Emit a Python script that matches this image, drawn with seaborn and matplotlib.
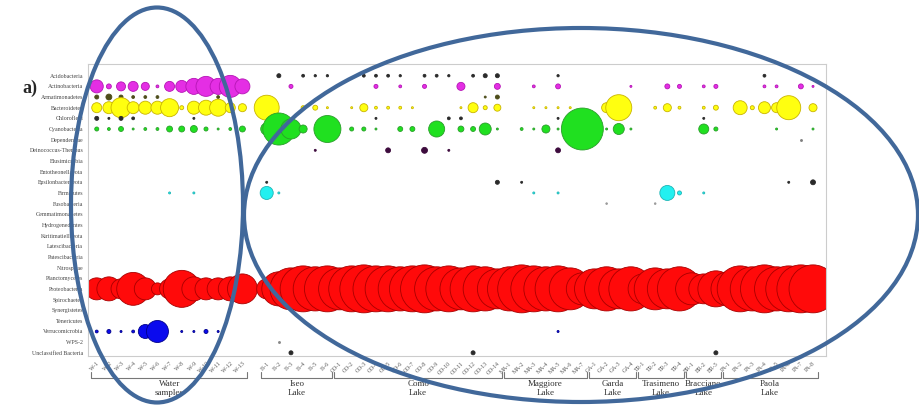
import numpy as np
import pandas as pd
import matplotlib
matplotlib.use("Agg")
import matplotlib.pyplot as plt
from matplotlib.patches import Ellipse
import seaborn as sns

sns.set_style("white")
plt.rcParams["font.family"] = ["Liberation Serif", "DejaVu Serif"]

# sample groups (the empty one is the blank column after the water samples)
group_names = ["Water\nsamples", "", "Iseo\nLake", "Como\nLake", "Maggiore\nLake",
               "Garda\nLake", "Trasimeno\nLake", "Bracciano\nLake", "Paola\nLake"]
group_codes = ["W", "", "IS", "CO", "MA", "GA", "TR", "BR", "PA"]
group_sizes = [13, 1, 6, 14, 7, 4, 4, 3, 8]

# relative abundance (%) per sample, in group order:
# water(13) | blank(1) | Iseo(6) | Como(14) | Maggiore(7) | Garda(4) | Trasimeno(4) | Bracciano(3) | Paola(8)
acidobacteria = ([0] * 13 + [0] + [0, 0.6, 0, 0.3, 0.2, 0.2]
                 + [0, 0, 0.3, 0.3, 0.3, 0.2, 0, 0.3, 0.3, 0.2, 0, 0.3, 0.6, 0.6]
                 + [0, 0, 0, 0, 0.2, 0, 0] + [0] * 4 + [0] * 4 + [0] * 3
                 + [0, 0, 0, 0.3, 0, 0, 0, 0])
actinobacteria = ([6.3, 0.9, 3.0, 3.7, 2.4, 0.3, 3.7, 5.3, 9.5, 14.8, 9.5, 17.9, 8.3] + [0]
                  + [0, 0, 0.6, 0, 0, 0]
                  + [0, 0, 0, 0.6, 0, 0.3, 0, 0.6, 0, 0, 2.4, 0, 0, 1.3]
                  + [0, 0, 0.3, 0, 0.9, 0, 0] + [0, 0, 0, 0.15] + [0, 0, 0.9, 0.6]
                  + [0, 0.3, 0.6] + [0, 0, 0, 0.3, 0.3, 0, 0.9, 0.15])
armatimonadetes = ([0.6, 1.3, 0.6, 0.3, 0.3, 0.3, 0, 0, 0, 0, 0.3, 0, 0] + [0]
                   + [0] * 6 + [0] * 12 + [0.15, 0.6] + [0] * 7 + [0] * 4 + [0] * 4
                   + [0] * 3 + [0] * 8)
bacteroidetes = ([3.7, 5.3, 14.8, 5.3, 6.3, 6.3, 12, 0.6, 6.3, 8.3, 10.7, 3.7, 2.4] + [0]
                 + [23, 0, 0, 0.6, 0.9, 0.15]
                 + [0, 0.15, 2.4, 0.3, 0.3, 0.3, 0.15, 0, 0, 0, 0.15, 3.7, 0.6, 1.8]
                 + [0, 0, 0.15, 0.15, 0.15, 0.15, 0] + [0, 3.7, 25, 0] + [0, 0.3, 2.4, 0.3]
                 + [0, 0.3, 0.9] + [0, 7.2, 0.6, 5.3, 3.7, 21.3, 0, 2.4])
chloroflexi = ([0.6, 0.15, 0.6, 0.3, 0, 0, 0, 0, 0.15, 0, 0, 0, 0] + [0] + [0] * 6
               + [0, 0, 0, 0.15, 0, 0, 0, 0, 0, 0.3, 0.3, 0, 0, 0]
               + [0, 0, 0, 0, 0.15, 0, 0] + [0] * 4 + [0] * 4 + [0, 0.15, 0] + [0] * 8)
cyanobacteria = ([0.6, 0.3, 0.9, 0.15, 0.3, 0.3, 1.3, 1.3, 1.8, 0.6, 0.15, 0.3, 1.3] + [0]
                 + [5.3, 38, 14.8, 2.4, 0, 27]
                 + [0, 0.6, 0.6, 0.15, 0, 0.9, 0.9, 0, 9.5, 0, 1.3, 0.9, 5.3, 0.15]
                 + [0, 0.3, 0.15, 2.4, 0.15, 0, 65] + [0, 0.15, 4.5, 0.15] + [0] * 4
                 + [0, 3.7, 0.6] + [0, 0, 0, 0, 0.15, 0, 0, 0.15])
dependentiae = [0] * 52 + [0, 0, 0, 0, 0, 0, 0.15, 0]
deinococcus = ([0] * 13 + [0] + [0, 0, 0, 0, 0.15, 0]
               + [0, 0, 0, 0, 0.9, 0, 0, 1.3, 0, 0.15, 0, 0, 0, 0]
               + [0, 0, 0, 0, 0.9, 0, 0] + [0] * 4 + [0] * 4 + [0] * 3 + [0] * 8)
epsilonbacteraeota = ([0] * 13 + [0] + [0.15, 0, 0, 0, 0, 0] + [0] * 13 + [0.6]
                      + [0, 0.15, 0, 0, 0, 0, 0] + [0] * 4 + [0] * 4 + [0] * 3
                      + [0, 0, 0, 0, 0, 0.15, 0, 0.9])
firmicutes = ([0, 0, 0, 0, 0, 0, 0.15, 0, 0.15, 0, 0, 0, 0] + [0]
              + [6.3, 0.15, 0, 0, 0, 0] + [0] * 14 + [0, 0, 0.15, 0, 0.15, 0, 0]
              + [0] * 4 + [0, 0, 8.3, 0.6] + [0, 0.15, 0] + [0] * 8)
fusobacteria = [0] * 34 + [0] * 7 + [0, 0.1, 0, 0] + [0, 0.1, 0, 0] + [0] * 3 + [0] * 8
proteobacteria = ([17.9, 21.3, 14.8, 40, 17.9, 5.3, 14.8, 50.6, 21.3, 17.9, 17.9, 21.3, 33]
                  + [0] + [14.8, 43, 65, 78, 72, 78]
                  + [65, 78, 85, 78, 78, 72, 78, 85, 72, 78, 65, 78, 72, 59]
                  + [72, 85, 78, 72, 78, 65, 38] + [59, 72, 59, 72] + [33, 65, 59, 72]
                  + [38, 33, 48] + [43, 78, 72, 85, 72, 78, 85, 85])
verrucomicrobia = ([0.3, 0.6, 0.15, 0.3, 7.2, 17.9, 0, 0.15, 0.15, 0.6, 0.15, 0, 0] + [0]
                   + [0] * 6 + [0] * 14 + [0, 0, 0, 0, 0.15, 0, 0] + [0] * 4 + [0] * 4
                   + [0] * 3 + [0] * 8)
wps2 = [0] * 13 + [0] + [0, 0.15, 0, 0, 0, 0] + [0] * 40
unclassified = ([0] * 13 + [0] + [0, 0, 0.6, 0, 0, 0] + [0] * 11 + [0.6, 0, 0]
                + [0] * 7 + [0] * 4 + [0] * 4 + [0, 0, 0.6] + [0] * 8)
empty = [0] * 60

phyla = ["Acidobacteria", "Actinobacteria", "Armatimonadetes", "Bacteroidetes",
         "Chloroflexi", "Cyanobacteria", "Dependentiae", "Deinococcus-Thermus",
         "Elusimicrobia", "Entotheonellaeota", "Epsilonbacteraeota", "Firmicutes",
         "Fusobacteria", "Gemmatimonadetes", "Hydrogenedentes", "Kiritimatiellaeota",
         "Latescibacteria", "Patescibacteria", "Nitrospirae", "Planctomycetes",
         "Proteobacteria", "Spirochaetes", "Synergistetes", "Tenericutes",
         "Verrucomicrobia", "WPS-2", "Unclassified Bacteria"]
abundances = [acidobacteria, actinobacteria, armatimonadetes, bacteroidetes,
              chloroflexi, cyanobacteria, dependentiae, deinococcus,
              empty, empty, epsilonbacteraeota, firmicutes,
              fusobacteria, empty, empty, empty,
              empty, empty, empty, empty,
              proteobacteria, empty, empty, empty,
              verrucomicrobia, wps2, unclassified]

face = {"Actinobacteria": "#e42ee4", "Bacteroidetes": "#ffff10", "Cyanobacteria": "#20e020",
        "Firmicutes": "#22f0f0", "Proteobacteria": "#ff0a0a", "Verrucomicrobia": "#0a0aee",
        "Armatimonadetes": "#4d4d1a", "Deinococcus-Thermus": "#3d0b3d",
        "Dependentiae": "#808080", "Fusobacteria": "#9a9a9a", "WPS-2": "#888888"}
edge = {"Actinobacteria": "#b515b5", "Bacteroidetes": "#c9b400", "Cyanobacteria": "#2a9e2a",
        "Firmicutes": "#1fb5b5", "Proteobacteria": "#a80000", "Verrucomicrobia": "#00008a"}

samples = []
for code, n in zip(group_codes, group_sizes):
    if code == "":
        samples += [""] * n
    else:
        samples += [f"{code}-{k}" for k in range(1, n + 1)]

rows = []
for r, (name, vals) in enumerate(zip(phyla, abundances)):
    assert len(vals) == len(samples), name
    for i, v in enumerate(vals):
        if v > 0:
            rows.append((name, r, i, v))
df = pd.DataFrame(rows, columns=["phylum", "row", "pos", "abundance"])

fig = plt.figure(figsize=(9.19, 4.13), dpi=100)
ax = fig.add_axes([88 / 919, 57 / 413, 738 / 919, 292 / 413])

for name, sub in df.groupby("phylum", sort=False):
    fc = face.get(name, "#2a2a2a")
    sns.scatterplot(data=sub, x="pos", y="row", size="abundance",
                    sizes=(0, 1402), size_norm=(0, 100),
                    color=fc, edgecolor=edge.get(name, fc), linewidth=0.6,
                    legend=False, ax=ax)

ax.set_xlim(-0.72, 60.07)
ax.set_ylim(26.3, -1.1)
ax.set_xlabel("")
ax.set_ylabel("")
ax.set_xticks(np.arange(len(samples)))
ax.set_xticklabels(samples, rotation=45, ha="right", rotation_mode="anchor",
                   fontsize=4.2, color="#555555")
ax.set_yticks(np.arange(len(phyla)))
ax.set_yticklabels(phyla, fontsize=4.2, color="#444444")
ax.tick_params(length=1.5, width=0.4, pad=2, color="#aaaaaa")
for s in ax.spines.values():
    s.set_color("#cccccc")
    s.set_linewidth(0.8)

# group brackets under the sample labels
trans = ax.get_xaxis_transform()
start = 0
for gname, n in zip(group_names, group_sizes):
    if gname:
        x0, x1 = start - 0.45, start + n - 1 + 0.4
        ax.plot([x0, x0, x1, x1], [-0.055, -0.075, -0.075, -0.055], transform=trans,
                color="#777777", lw=0.8, clip_on=False)
        ax.text((x0 + x1) / 2, -0.082, gname, transform=trans, ha="center", va="top",
                fontsize=6.5, linespacing=1.1, color="#333333")
    start += n

fig.text(0.024, 0.787, "a)", fontsize=13, fontweight="bold", va="center", ha="left")

# highlight ellipses
for cx, cy, w, h in [(157, 205, 172, 395), (581, 215, 674, 374)]:
    fig.add_artist(Ellipse((cx / 919, 1 - cy / 413), w / 919, h / 413,
                           transform=fig.transFigure, fill=False,
                           edgecolor="#41689a", lw=3, zorder=10))

fig.savefig("out.png", dpi=100, facecolor="white")
